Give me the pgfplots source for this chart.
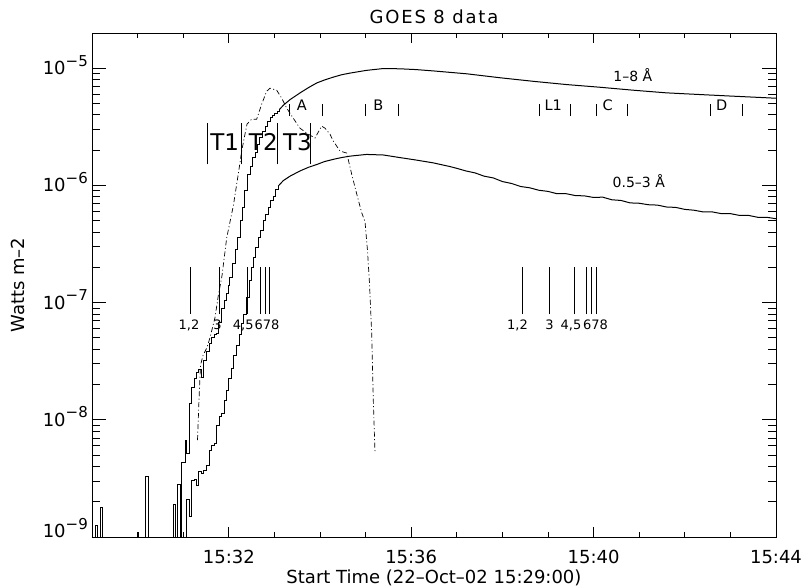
\documentclass[border=0pt]{standalone}
\usepackage{pgfplots}
\pgfplotsset{compat=1.18}
\usepackage{fontspec}
\setmainfont{DejaVu Sans}

\newcommand{\fs}[1]{\fontsize{#1}{#1}\selectfont}
\newcommand{\dec}[1]{10\raisebox{8.4pt}{\fs{15}−#1}}

\begin{document}
\begin{tikzpicture}
\begin{axis}[
    at={(0,0)}, anchor=south west,
    scale only axis, width=684pt, height=504pt,
    ymode=log,
    xmin=0, xmax=15, ymin=1e-9, ymax=2e-5,
    xtick={3,7,11,15},
    xticklabels={15:32,15:36,15:40,15:44},
    minor xtick={1,2,4,5,6,8,9,10,12,13,14},
    ytick={1e-9,1e-8,1e-7,1e-6,1e-5},
    yticklabels={\raisebox{6pt}{\dec{9}},\dec{8},\dec{7},\dec{6},\dec{5}},
    minor ytick={2e-9,3e-9,4e-9,5e-9,6e-9,7e-9,8e-9,9e-9,
                 2e-8,3e-8,4e-8,5e-8,6e-8,7e-8,8e-8,9e-8,
                 2e-7,3e-7,4e-7,5e-7,6e-7,7e-7,8e-7,9e-7,
                 2e-6,3e-6,4e-6,5e-6,6e-6,7e-6,8e-6,9e-6},
    xtick pos=both, ytick pos=both,
    xticklabel pos=lower, yticklabel pos=left,
    tick align=inside,
    major x tick style={/pgfplots/major tick length=10pt},
    minor x tick style={/pgfplots/minor tick length=5pt},
    major y tick style={/pgfplots/major tick length=14pt},
    minor y tick style={/pgfplots/minor tick length=8pt},
    tick style={black, line width=0.9pt},
    axis line style={line width=0.9pt},
    ticklabel style={font=\fs{18}},
    xticklabel style={anchor=base, inner sep=0pt, yshift=-26pt},
    yticklabel style={anchor=base east, inner sep=0pt, xshift=-4pt, yshift=-6.5pt},
    clip mode=individual,
]

% 1-8 A channel, rise (3 s steps)
\addplot[black, line width=1pt, const plot] coordinates {
(0,1e-9) (0.072,1.26e-9) (0.13,1e-9) (0.18,1.79e-9) (0.24,1e-9)
(0.99,1.1e-9) (1.02,1e-9) (1.17,3.3e-9) (1.24,1e-9)
(1.78,1.9e-9) (1.84,1e-9) (1.87,2.8e-9) (1.94,1e-9)
(1.967,4.3e-9) (2.04,6.7e-9) (2.077,5.2e-9) (2.134,1.37e-8) (2.186,1.87e-8)
(2.237,2.24e-8) (2.296,2.55e-8) (2.346,2.7e-8) (2.406,2.31e-8) (2.456,3.2e-8)
(2.515,3.8e-8) (2.572,4.45e-8) (2.623,5.0e-8) (2.682,5.3e-8) (2.734,5.5e-8)
(2.785,6.8e-8) (2.844,9.0e-8) (2.895,1.05e-7) (2.954,1.19e-7) (2.99,1.4e-7)
(3.026,1.64e-7) (3.077,2.14e-7) (3.136,2.86e-7) (3.186,3.6e-7) (3.246,5.0e-7)
(3.296,6.5e-7) (3.355,9.0e-7) (3.406,1.24e-6) (3.465,1.46e-6) (3.515,1.72e-6)
(3.575,1.9e-6) (3.625,2.24e-6) (3.684,2.55e-6) (3.735,2.9e-6) (3.794,3.2e-6)
(3.844,3.54e-6) (3.904,3.78e-6) (3.955,3.95e-6) (4.005,4.1e-6) (4.06,4.3e-6)
(4.11,4.45e-6)
};
% 1-8 A channel, decay
\addplot[black, line width=1pt] coordinates {
(4.11,4.45e-6) (4.2,4.85e-6) (4.342,5.4e-6) (4.561,6.16e-6) (4.75,6.85e-6)
(4.93,7.5e-6) (5.1,7.95e-6) (5.29,8.4e-6) (5.47,8.8e-6) (5.66,9.1e-6)
(6.02,9.6e-6) (6.39,9.95e-6) (6.75,9.9e-6) (7.1,9.75e-6) (7.48,9.5e-6)
(8.22,8.97e-6) (8.95,8.3e-6) (9.68,7.74e-6) (10.41,7.26e-6) (11.14,6.89e-6)
(11.87,6.5e-6) (12.6,6.17e-6) (13.33,5.97e-6) (14.06,5.78e-6) (14.8,5.6e-6)
(15,5.55e-6)
};

% 0.5-3 A channel, rise
\addplot[black, line width=1pt, const plot] coordinates {
(0,1e-9) (2.077,2.07e-9) (2.134,1.49e-9) (2.186,3.06e-9) (2.243,3.12e-9)
(2.296,2.77e-9) (2.346,3.6e-9) (2.406,3.5e-9) (2.456,3.7e-9) (2.515,4.1e-9)
(2.572,5.5e-9) (2.625,6.07e-9) (2.682,6.3e-9) (2.74,8.97e-9) (2.79,1.07e-8)
(2.844,1.13e-8) (2.895,1.47e-8) (2.954,1.78e-8) (3.004,2.24e-8) (3.063,2.73e-8)
(3.114,3.54e-8) (3.173,4.3e-8) (3.224,5.4e-8) (3.283,6.6e-8) (3.333,8.0e-8)
(3.393,1.11e-7) (3.443,1.54e-7) (3.493,1.99e-7) (3.546,2.43e-7) (3.596,2.95e-7)
(3.647,3.6e-7) (3.7,4.1e-7) (3.757,5.0e-7) (3.809,5.7e-7) (3.866,6.5e-7)
(3.919,7.4e-7) (3.976,8.1e-7) (4.029,9.3e-7) (4.086,9.9e-7)
};
% 0.5-3 A channel, decay
\addplot[black, line width=1pt] coordinates {
(4.086,9.9e-7) (4.195,1.1e-6) (4.342,1.2e-6) (4.561,1.33e-6) (4.75,1.43e-6)
(4.93,1.51e-6) (5.1,1.6e-6) (5.29,1.67e-6) (5.47,1.73e-6) (5.66,1.78e-6)
(6.02,1.84e-6) (6.39,1.82e-6) (6.75,1.73e-6) (7.1,1.65e-6) (7.48,1.56e-6)
(7.85,1.45e-6) (8.0,1.40e-6) (8.2,1.33e-6) (8.4,1.28e-6) (8.6,1.20e-6)
(8.8,1.16e-6) (9.0,1.08e-6) (9.2,1.04e-6) (9.4,9.8e-7) (9.6,9.55e-7)
(9.8,9.1e-7) (10.0,8.9e-7) (10.2,8.5e-7) (10.4,8.5e-7) (10.6,8.2e-7)
(10.8,8.15e-7) (11.0,7.9e-7) (11.2,7.95e-7) (11.4,7.55e-7) (11.6,7.45e-7)
(11.8,7.1e-7) (12.0,7.05e-7) (12.2,6.85e-7) (12.4,6.8e-7) (12.6,6.55e-7)
(12.8,6.5e-7) (13.0,6.25e-7) (13.2,6.15e-7) (13.4,5.95e-7) (13.6,5.95e-7)
(13.8,5.75e-7) (14.0,5.75e-7) (14.2,5.55e-7) (14.4,5.55e-7) (14.6,5.35e-7)
(14.8,5.35e-7) (15.0,5.2e-7)
};

% dash-dot curve
\addplot[black, line width=0.7pt, dash pattern=on 5pt off 2.5pt on 1pt off 2.5pt] coordinates {
(2.314,6.7e-9) (2.346,1.47e-8) (2.379,2.91e-8) (2.434,3.54e-8) (2.522,4.14e-8)
(2.588,5.04e-8) (2.697,7.45e-8) (2.77,1.15e-7) (2.851,1.70e-7) (2.954,3.57e-7)
(3.099,6.70e-7) (3.208,1.25e-6) (3.283,1.97e-6) (3.355,2.74e-6) (3.399,3.34e-6)
(3.502,3.68e-6) (3.612,3.68e-6) (3.721,4.94e-6) (3.831,6.37e-6) (3.904,6.76e-6)
(4.05,6.50e-6) (4.16,5.56e-6) (4.27,4.57e-6) (4.414,3.75e-6) (4.561,3.08e-6)
(4.743,2.74e-6) (4.89,2.54e-6) (5.037,3.21e-6) (5.11,3.08e-6) (5.219,2.74e-6)
(5.292,2.39e-6) (5.439,1.97e-6) (5.585,1.89e-6) (5.695,1.25e-6) (5.805,8.47e-7)
(5.914,5.86e-7) (5.987,4.91e-7) (6.042,2.77e-7) (6.086,1.45e-7) (6.134,5.45e-8)
(6.169,1.47e-8) (6.206,5.29e-9)
};

% event markers
\addplot[black, line width=0.8pt, unbounded coords=jump] coordinates {
(2.149,8e-8) (2.149,2e-7) (2.149,nan)
(2.789,8e-8) (2.789,2e-7) (2.789,nan)
(3.397,8e-8) (3.397,2e-7) (3.397,nan)
(3.691,8e-8) (3.691,2e-7) (3.691,nan)
(3.794,8e-8) (3.794,2e-7) (3.794,nan)
(3.882,8e-8) (3.882,2e-7) (3.882,nan)
(9.445,8e-8) (9.445,2e-7) (9.445,nan)
(10.029,8e-8) (10.029,2e-7) (10.029,nan)
(10.577,8e-8) (10.577,2e-7) (10.577,nan)
(10.849,8e-8) (10.849,2e-7) (10.849,nan)
(10.958,8e-8) (10.958,2e-7) (10.958,nan)
(11.068,8e-8) (11.068,2e-7) (11.068,nan)
(2.529,1.51e-6) (2.529,3.42e-6) (2.529,nan)
(3.283,1.51e-6) (3.283,3.42e-6) (3.283,nan)
(4.064,1.51e-6) (4.064,3.42e-6) (4.064,nan)
(4.781,1.51e-6) (4.781,3.42e-6) (4.781,nan)
(4.327,3.9e-6) (4.327,4.95e-6) (4.327,nan)
(5.059,3.9e-6) (5.059,4.95e-6) (5.059,nan)
(6.002,3.9e-6) (6.002,4.95e-6) (6.002,nan)
(6.717,3.9e-6) (6.717,4.95e-6) (6.717,nan)
(9.803,3.9e-6) (9.803,4.95e-6) (9.803,nan)
(10.498,3.9e-6) (10.498,4.95e-6) (10.498,nan)
(11.053,3.9e-6) (11.053,4.95e-6) (11.053,nan)
(11.739,3.9e-6) (11.739,4.95e-6) (11.739,nan)
(13.568,3.9e-6) (13.568,4.95e-6) (13.568,nan)
(14.261,3.9e-6) (14.261,4.95e-6)
};

\node[anchor=base, font=\fs{13}] at (axis cs:2.127,5.86e-8) {1,2};
\node[anchor=base, font=\fs{13}] at (axis cs:2.752,5.86e-8) {3};
\node[anchor=base, font=\fs{13}] at (axis cs:3.318,5.86e-8) {4,5};
\node[anchor=base, font=\fs{13}] at (axis cs:3.838,5.86e-8) {678};
\node[anchor=base, font=\fs{13}] at (axis cs:9.331,5.86e-8) {1,2};
\node[anchor=base, font=\fs{13}] at (axis cs:10.035,5.86e-8) {3};
\node[anchor=base, font=\fs{13}] at (axis cs:10.504,5.86e-8) {4,5};
\node[anchor=base, font=\fs{13}] at (axis cs:11.04,5.86e-8) {678};

\node[anchor=base, font=\fs{23}] at (axis cs:2.91,1.97e-6) {T1};
\node[anchor=base, font=\fs{23}] at (axis cs:3.757,1.97e-6) {T2};
\node[anchor=base, font=\fs{23}] at (axis cs:4.507,1.97e-6) {T3};

\node[anchor=base, font=\fs{14.5}] at (axis cs:4.599,4.37e-6) {A};
\node[anchor=base, font=\fs{14.5}] at (axis cs:6.279,4.37e-6) {B};
\node[anchor=base, font=\fs{14.5}] at (axis cs:10.116,4.37e-6) {L1};
\node[anchor=base, font=\fs{14.5}] at (axis cs:11.309,4.37e-6) {C};
\node[anchor=base, font=\fs{14.5}] at (axis cs:13.809,4.37e-6) {D};

\node[anchor=base, font=\fs{14}] at (axis cs:11.86,7.74e-6) {1–8 Å};
\node[anchor=base, font=\fs{14}] at (axis cs:11.99,9.58e-7) {0.5–3 Å};
\end{axis}

\node[anchor=base, font=\fs{18}\addfontfeatures{LetterSpace=10}] at (342pt,513.7pt) {GOES 8 data};
\node[anchor=base, font=\fs{18}] at (342pt,-47pt) {Start Time (22–Oct–02 15:29:00)};
\node[anchor=base, font=\fs{18}, rotate=90] at (-67pt,252pt) {Watts m–2};

\pgfresetboundingbox
\path[use as bounding box] (-92pt,-51pt) rectangle (709pt,537pt);
\end{tikzpicture}
\end{document}
